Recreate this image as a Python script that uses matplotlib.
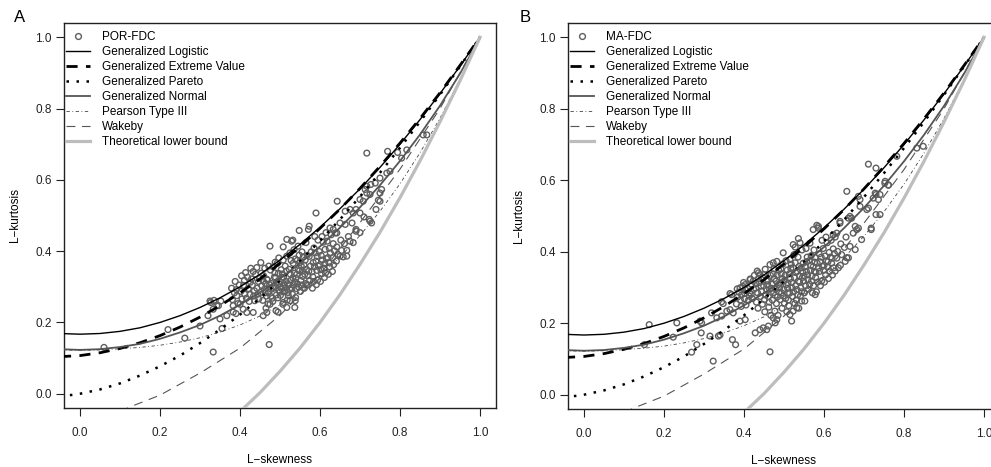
import numpy as np
import matplotlib
matplotlib.use("Agg")
import matplotlib.pyplot as plt
from matplotlib.lines import Line2D

plt.rcParams["font.family"] = ["Liberation Sans", "DejaVu Sans"]
plt.rcParams["font.size"] = 8.5

# theoretical L-moment ratio curves (L-skewness grid, L-kurtosis values)
curve_skew = [-0.05, 0.0, 0.05, 0.1, 0.15, 0.2, 0.25, 0.3, 0.35, 0.4, 0.45,
              0.5, 0.55, 0.6, 0.65, 0.7, 0.75, 0.8, 0.85, 0.9, 0.95, 1.0]
glo_kurt = [0.169, 0.167, 0.169, 0.175, 0.185, 0.200, 0.219, 0.242, 0.269, 0.300, 0.335,
            0.375, 0.419, 0.467, 0.519, 0.575, 0.635, 0.700, 0.769, 0.842, 0.919, 1.000]
gev_kurt = [0.104, 0.107, 0.115, 0.127, 0.143, 0.163, 0.187, 0.215, 0.247, 0.283, 0.322,
            0.366, 0.413, 0.464, 0.518, 0.576, 0.638, 0.703, 0.772, 0.844, 0.921, 1.000]
gpa_kurt = [-0.008, 0.000, 0.012, 0.029, 0.051, 0.077, 0.107, 0.142, 0.180, 0.222, 0.268,
            0.318, 0.372, 0.429, 0.489, 0.553, 0.620, 0.690, 0.763, 0.839, 0.918, 1.000]
gno_kurt = [0.125, 0.123, 0.125, 0.131, 0.140, 0.154, 0.172, 0.193, 0.219, 0.250, 0.284,
            0.323, 0.366, 0.413, 0.466, 0.523, 0.585, 0.653, 0.727, 0.808, 0.898, 0.998]
pe3_kurt = [0.123, 0.122, 0.123, 0.126, 0.130, 0.136, 0.145, 0.157, 0.173, 0.193, 0.218,
            0.249, 0.287, 0.331, 0.383, 0.444, 0.512, 0.589, 0.676, 0.773, 0.881, 1.000]

wak_skew = [0.10, 0.125, 0.2, 0.3, 0.4, 0.5, 0.6, 0.7, 0.8, 0.9, 1.0]
wak_kurt = [-0.050, -0.037, -0.004, 0.058, 0.128, 0.220, 0.335, 0.480, 0.630, 0.800, 1.000]

bound_skew = [0.40, 0.45, 0.50, 0.55, 0.60, 0.65, 0.70, 0.75, 0.80, 0.85, 0.90, 0.95, 1.00]
bound_kurt = [-0.050, 0.003, 0.063, 0.128, 0.200, 0.278, 0.363, 0.453, 0.550, 0.653, 0.763, 0.878, 1.000]

# sample L-moment ratios (L-skewness, L-kurtosis), POR-FDC
por_points = [
    (0.060, 0.130), (0.220, 0.180), (0.262, 0.156), (0.300, 0.190), (0.333, 0.117), (0.355, 0.183), (0.473, 0.138),
    (0.325, 0.260), (0.342, 0.247), (0.320, 0.219), (0.333, 0.237), (0.350, 0.210), (0.367, 0.219), (0.383, 0.229),
    (0.390, 0.225), (0.408, 0.237), (0.417, 0.228), (0.433, 0.228), (0.467, 0.228), (0.490, 0.233), (0.495, 0.229),
    (0.517, 0.242), (0.537, 0.242), (0.538, 0.261), (0.508, 0.256), (0.525, 0.261), (0.475, 0.251), (0.465, 0.240),
    (0.383, 0.247), (0.400, 0.251), (0.346, 0.247), (0.352, 0.260), (0.335, 0.262), (0.327, 0.256), (0.458, 0.219),
    (0.381, 0.264), (0.386, 0.283), (0.379, 0.296),
    (0.392, 0.275), (0.388, 0.315), (0.395, 0.253), (0.391, 0.292),
    (0.402, 0.287), (0.405, 0.266), (0.398, 0.305), (0.404, 0.331),
    (0.412, 0.279), (0.414, 0.340), (0.409, 0.304), (0.416, 0.268), (0.411, 0.318),
    (0.421, 0.295), (0.426, 0.313), (0.423, 0.259), (0.419, 0.327), (0.427, 0.352), (0.425, 0.278),
    (0.431, 0.304), (0.434, 0.274), (0.429, 0.322), (0.436, 0.289), (0.433, 0.343), (0.437, 0.261),
    (0.442, 0.296), (0.446, 0.315), (0.439, 0.335), (0.442, 0.354), (0.447, 0.266), (0.444, 0.279),
    (0.451, 0.284), (0.455, 0.303), (0.449, 0.324), (0.453, 0.338), (0.457, 0.262), (0.452, 0.368), (0.458, 0.316),
    (0.461, 0.293), (0.464, 0.309), (0.459, 0.331), (0.466, 0.274), (0.462, 0.352), (0.467, 0.321), (0.463, 0.283),
    (0.471, 0.284), (0.474, 0.306), (0.469, 0.319), (0.476, 0.347), (0.472, 0.358), (0.475, 0.414), (0.478, 0.293), (0.470, 0.252), (0.477, 0.273),
    (0.481, 0.268), (0.484, 0.296), (0.479, 0.309), (0.486, 0.327), (0.483, 0.356), (0.488, 0.369), (0.485, 0.301), (0.482, 0.259), (0.487, 0.339),
    (0.491, 0.277), (0.494, 0.305), (0.489, 0.326), (0.496, 0.338), (0.493, 0.366), (0.497, 0.381), (0.492, 0.314), (0.495, 0.269), (0.498, 0.289),
    (0.501, 0.276), (0.504, 0.295), (0.499, 0.308), (0.506, 0.336), (0.503, 0.348), (0.508, 0.375), (0.502, 0.299), (0.505, 0.327), (0.507, 0.251), (0.508, 0.412), (0.500, 0.285),
    (0.511, 0.286), (0.514, 0.297), (0.509, 0.326), (0.516, 0.344), (0.513, 0.358), (0.517, 0.386), (0.517, 0.433), (0.512, 0.289), (0.515, 0.315), (0.518, 0.263), (0.510, 0.306),
    (0.521, 0.275), (0.524, 0.294), (0.519, 0.309), (0.526, 0.335), (0.523, 0.349), (0.528, 0.374), (0.525, 0.395), (0.529, 0.428), (0.522, 0.305), (0.527, 0.318), (0.520, 0.284),
    (0.531, 0.279), (0.534, 0.306), (0.532, 0.325), (0.536, 0.338), (0.533, 0.366), (0.538, 0.378), (0.535, 0.404), (0.532, 0.431), (0.537, 0.314), (0.539, 0.270), (0.530, 0.296),
    (0.541, 0.295), (0.544, 0.308), (0.542, 0.335), (0.546, 0.348), (0.543, 0.374), (0.548, 0.389), (0.545, 0.414), (0.547, 0.299), (0.549, 0.345), (0.548, 0.458), (0.540, 0.324),
    (0.551, 0.287), (0.554, 0.305), (0.552, 0.318), (0.556, 0.345), (0.553, 0.359), (0.558, 0.384), (0.555, 0.398), (0.557, 0.329), (0.550, 0.368),
    (0.561, 0.296), (0.564, 0.309), (0.562, 0.335), (0.566, 0.349), (0.563, 0.375), (0.568, 0.388), (0.565, 0.424), (0.567, 0.306), (0.560, 0.361),
    (0.571, 0.305), (0.574, 0.318), (0.572, 0.344), (0.576, 0.358), (0.573, 0.385), (0.578, 0.398), (0.573, 0.470), (0.571, 0.461), (0.570, 0.331),
    (0.581, 0.296), (0.584, 0.315), (0.582, 0.328), (0.586, 0.356), (0.583, 0.368), (0.588, 0.395), (0.585, 0.409), (0.587, 0.441), (0.580, 0.342),
    (0.591, 0.306), (0.594, 0.319), (0.592, 0.346), (0.596, 0.358), (0.593, 0.385), (0.598, 0.399), (0.590, 0.507), (0.595, 0.431), (0.590, 0.372),
    (0.601, 0.315), (0.604, 0.336), (0.602, 0.348), (0.606, 0.375), (0.603, 0.388), (0.608, 0.425), (0.605, 0.441), (0.600, 0.362),
    (0.611, 0.326), (0.614, 0.339), (0.612, 0.365), (0.616, 0.379), (0.613, 0.405), (0.618, 0.428), (0.615, 0.452), (0.610, 0.352),
    (0.621, 0.335), (0.624, 0.356), (0.622, 0.368), (0.626, 0.395), (0.623, 0.408), (0.628, 0.446), (0.625, 0.465), (0.620, 0.382),
    (0.631, 0.343), (0.634, 0.362), (0.632, 0.382), (0.636, 0.401), (0.633, 0.421), (0.633, 0.461), (0.638, 0.451),
    (0.641, 0.372), (0.644, 0.391), (0.642, 0.412), (0.642, 0.451), (0.643, 0.540),
    (0.650, 0.386), (0.654, 0.402), (0.652, 0.431), (0.650, 0.479),
    (0.658, 0.384), (0.661, 0.421), (0.663, 0.475), (0.663, 0.512),
    (0.667, 0.402), (0.671, 0.441), (0.667, 0.386),
    (0.675, 0.428), (0.680, 0.479), (0.683, 0.507), (0.675, 0.517),
    (0.683, 0.424), (0.690, 0.461), (0.690, 0.456), (0.690, 0.517),
    (0.700, 0.452), (0.700, 0.507), (0.700, 0.545),
    (0.710, 0.496), (0.713, 0.573), (0.717, 0.563), (0.717, 0.675), (0.723, 0.489),
    (0.725, 0.484), (0.725, 0.559), (0.727, 0.587), (0.729, 0.479), (0.708, 0.540), (0.717, 0.582),
    (0.740, 0.517), (0.738, 0.591), (0.746, 0.543),
    (0.750, 0.563), (0.750, 0.605), (0.750, 0.540), (0.754, 0.573),
    (0.767, 0.619), (0.769, 0.680), (0.775, 0.624),
    (0.794, 0.677), (0.804, 0.661), (0.817, 0.684),
    (0.858, 0.726), (0.867, 0.726),
]

# sample L-moment ratios (L-skewness, L-kurtosis), MA-FDC
ma_points = [
    (0.163, 0.196), (0.232, 0.201), (0.223, 0.161), (0.151, 0.140), (0.269, 0.119), (0.282, 0.140), (0.293, 0.173), (0.294, 0.201),
    (0.323, 0.094), (0.315, 0.164), (0.336, 0.164), (0.340, 0.167), (0.371, 0.154), (0.379, 0.140), (0.465, 0.120),
    (0.428, 0.173), (0.440, 0.182), (0.448, 0.187), (0.457, 0.182), (0.461, 0.192), (0.473, 0.215), (0.482, 0.210), (0.478, 0.201),
    (0.515, 0.224), (0.523, 0.234), (0.519, 0.206), (0.532, 0.243), (0.544, 0.262), (0.390, 0.206), (0.403, 0.210),
    (0.357, 0.234), (0.365, 0.238), (0.373, 0.229), (0.332, 0.215), (0.344, 0.220), (0.344, 0.260), (0.348, 0.255), (0.319, 0.229),
    (0.290, 0.206), (0.369, 0.280), (0.365, 0.283), (0.390, 0.299), (0.403, 0.308), (0.415, 0.322), (0.436, 0.341), (0.440, 0.336),
    (0.381, 0.254), (0.384, 0.273), (0.387, 0.287), (0.383, 0.296),
    (0.391, 0.265), (0.394, 0.279), (0.397, 0.303), (0.393, 0.247),
    (0.401, 0.269), (0.404, 0.293), (0.399, 0.314), (0.405, 0.251), (0.402, 0.283),
    (0.411, 0.264), (0.414, 0.285), (0.409, 0.298), (0.416, 0.324), (0.413, 0.276),
    (0.421, 0.269), (0.424, 0.295), (0.419, 0.309), (0.426, 0.334), (0.423, 0.318), (0.418, 0.281),
    (0.431, 0.259), (0.434, 0.285), (0.429, 0.298), (0.436, 0.325), (0.433, 0.346), (0.435, 0.242), (0.430, 0.311),
    (0.441, 0.275), (0.444, 0.289), (0.439, 0.314), (0.446, 0.253), (0.443, 0.304), (0.447, 0.328),
    (0.451, 0.266), (0.454, 0.279), (0.449, 0.305), (0.456, 0.319), (0.453, 0.351), (0.452, 0.232), (0.457, 0.292), (0.450, 0.336),
    (0.461, 0.274), (0.464, 0.295), (0.459, 0.308), (0.466, 0.334), (0.465, 0.364), (0.462, 0.245), (0.467, 0.222), (0.460, 0.318), (0.463, 0.259),
    (0.471, 0.265), (0.474, 0.286), (0.469, 0.298), (0.476, 0.325), (0.473, 0.338), (0.473, 0.369), (0.477, 0.234), (0.470, 0.309), (0.475, 0.352), (0.478, 0.278),
    (0.481, 0.255), (0.484, 0.274), (0.479, 0.296), (0.486, 0.308), (0.483, 0.335), (0.482, 0.373), (0.487, 0.348), (0.485, 0.222), (0.480, 0.318), (0.488, 0.287),
    (0.491, 0.266), (0.494, 0.285), (0.489, 0.299), (0.496, 0.325), (0.493, 0.338), (0.497, 0.366), (0.495, 0.242), (0.490, 0.312), (0.498, 0.276), (0.492, 0.352),
    (0.501, 0.256), (0.504, 0.269), (0.499, 0.294), (0.506, 0.308), (0.503, 0.334), (0.508, 0.349), (0.498, 0.397), (0.505, 0.375), (0.507, 0.232), (0.500, 0.318), (0.509, 0.285),
    (0.511, 0.265), (0.514, 0.284), (0.509, 0.298), (0.516, 0.325), (0.513, 0.338), (0.518, 0.365), (0.515, 0.378), (0.512, 0.249), (0.510, 0.312), (0.517, 0.354),
    (0.521, 0.275), (0.524, 0.288), (0.519, 0.314), (0.526, 0.328), (0.523, 0.355), (0.528, 0.369), (0.523, 0.420), (0.525, 0.392), (0.527, 0.255), (0.520, 0.299), (0.529, 0.342),
    (0.531, 0.265), (0.534, 0.279), (0.529, 0.305), (0.536, 0.318), (0.533, 0.345), (0.538, 0.359), (0.528, 0.413), (0.535, 0.385), (0.537, 0.242), (0.532, 0.294), (0.539, 0.332),
    (0.541, 0.276), (0.544, 0.288), (0.539, 0.315), (0.546, 0.328), (0.543, 0.355), (0.548, 0.368), (0.536, 0.437), (0.545, 0.405), (0.540, 0.425), (0.542, 0.299), (0.547, 0.342),
    (0.551, 0.285), (0.554, 0.305), (0.549, 0.318), (0.556, 0.345), (0.553, 0.358), (0.558, 0.385), (0.555, 0.409), (0.552, 0.262), (0.550, 0.332), (0.557, 0.372),
    (0.561, 0.295), (0.564, 0.309), (0.559, 0.335), (0.566, 0.348), (0.563, 0.375), (0.568, 0.389), (0.565, 0.424), (0.560, 0.322), (0.567, 0.362),
    (0.571, 0.285), (0.574, 0.305), (0.569, 0.318), (0.576, 0.345), (0.573, 0.358), (0.578, 0.384), (0.573, 0.462), (0.575, 0.405), (0.570, 0.332), (0.577, 0.371),
    (0.581, 0.288), (0.584, 0.315), (0.579, 0.328), (0.586, 0.355), (0.583, 0.368), (0.588, 0.394), (0.582, 0.474), (0.586, 0.471), (0.578, 0.280), (0.580, 0.342),
    (0.591, 0.305), (0.594, 0.318), (0.589, 0.345), (0.596, 0.359), (0.593, 0.385), (0.598, 0.409), (0.586, 0.466), (0.595, 0.432), (0.590, 0.372),
    (0.601, 0.315), (0.604, 0.335), (0.599, 0.348), (0.606, 0.375), (0.603, 0.388), (0.608, 0.425), (0.605, 0.441), (0.600, 0.362),
    (0.611, 0.325), (0.614, 0.345), (0.609, 0.358), (0.616, 0.385), (0.613, 0.398), (0.618, 0.432), (0.610, 0.372),
    (0.621, 0.335), (0.624, 0.355), (0.619, 0.368), (0.626, 0.395), (0.623, 0.408), (0.628, 0.441), (0.620, 0.382),
    (0.628, 0.346), (0.636, 0.355), (0.632, 0.382), (0.634, 0.401), (0.623, 0.448), (0.632, 0.452),
    (0.641, 0.362), (0.644, 0.392), (0.642, 0.422), (0.640, 0.480), (0.640, 0.485),
    (0.653, 0.373), (0.657, 0.383), (0.651, 0.412), (0.655, 0.441),
    (0.661, 0.383), (0.665, 0.415), (0.665, 0.499), (0.661, 0.494), (0.657, 0.569),
    (0.678, 0.406), (0.669, 0.494), (0.673, 0.452),
    (0.682, 0.462), (0.678, 0.471), (0.686, 0.466), (0.686, 0.555),
    (0.694, 0.434), (0.690, 0.546), (0.690, 0.527),
    (0.711, 0.645), (0.707, 0.518), (0.711, 0.522),
    (0.718, 0.462), (0.718, 0.466), (0.723, 0.550),
    (0.730, 0.504), (0.728, 0.564), (0.730, 0.560), (0.730, 0.634),
    (0.740, 0.560), (0.736, 0.546), (0.740, 0.504),
    (0.752, 0.592), (0.753, 0.597), (0.761, 0.586), (0.761, 0.587),
    (0.782, 0.667), (0.832, 0.690), (0.848, 0.695),
]

x_ticks = [0.0, 0.2, 0.4, 0.6, 0.8, 1.0]
y_ticks = [0.0, 0.2, 0.4, 0.6, 0.8, 1.0]

point_color = "#5f5f5f"
styles = {
    "Generalized Logistic": dict(color="black", lw=1.0, ls="-"),
    "Generalized Extreme Value": dict(color="black", lw=2.0, ls=(0, (4, 3))),
    "Generalized Pareto": dict(color="black", lw=1.8, ls=(0, (1, 3))),
    "Generalized Normal": dict(color="#555555", lw=1.3, ls="-"),
    "Pearson Type III": dict(color="#444444", lw=0.6, ls=(0, (4, 3, 1, 3))),
    "Wakeby": dict(color="#555555", lw=0.8, ls=(0, (8, 6))),
    "Theoretical lower bound": dict(color="#bdbdbd", lw=2.3, ls="-"),
}


def draw_panel(ax, points, sample_label):
    pts = np.array(points)
    ax.scatter(pts[:, 0], pts[:, 1], s=17, facecolors="none", edgecolors=point_color,
               linewidths=1.0, zorder=2)
    curves = [
        ("Generalized Logistic", curve_skew, glo_kurt),
        ("Generalized Extreme Value", curve_skew, gev_kurt),
        ("Generalized Pareto", curve_skew, gpa_kurt),
        ("Generalized Normal", curve_skew, gno_kurt),
        ("Pearson Type III", curve_skew, pe3_kurt),
        ("Wakeby", wak_skew, wak_kurt),
        ("Theoretical lower bound", bound_skew, bound_kurt),
    ]
    for name, xs, ys in curves:
        ax.plot(xs, ys, zorder=3, **styles[name])

    ax.set_xlim(-0.04, 1.04)
    ax.set_ylim(-0.04, 1.04)
    ax.set_xticks(x_ticks)
    ax.set_yticks(y_ticks)
    ax.set_xticklabels([f"{v:.1f}" for v in x_ticks])
    ax.set_yticklabels([f"{v:.1f}" for v in y_ticks])
    ax.tick_params(axis="x", length=5.5, width=0.8, pad=8, colors="#222222")
    ax.tick_params(axis="y", length=5.5, width=0.8, pad=3.5, colors="#222222")
    for sp in ax.spines.values():
        sp.set_linewidth(1.0)
        sp.set_color("#222222")
    ax.set_xlabel("L\u2212skewness", labelpad=11)
    ax.set_ylabel("L\u2212kurtosis", labelpad=10)

    handles = [Line2D([], [], marker="o", ls="none", markersize=4.2, markerfacecolor="none",
                      markeredgecolor=point_color, markeredgewidth=1.0)]
    labels = [sample_label]
    for name, _, _ in curves:
        handles.append(Line2D([], [], **styles[name]))
        labels.append(name)
    ax.legend(handles, labels, loc="upper left", bbox_to_anchor=(0.0, 0.985), frameon=False,
              handlelength=2.0, handletextpad=1.0, labelspacing=0.25, borderaxespad=0.0,
              borderpad=0.2, fontsize=8.5)


fig = plt.figure(figsize=(9.91, 4.67), dpi=100)
ax_a = fig.add_axes([64 / 991, 59 / 467, 432 / 991, 385 / 467])
ax_b = fig.add_axes([568 / 991, 58 / 467, 432 / 991, 386 / 467])
draw_panel(ax_a, por_points, "POR-FDC")
draw_panel(ax_b, ma_points, "MA-FDC")
fig.text(20 / 991, 1 - 17 / 467, "A", fontsize=12, ha="center", va="center")
fig.text(525 / 991, 1 - 17 / 467, "B", fontsize=12, ha="center", va="center")

fig.savefig("out.png", dpi=100)
